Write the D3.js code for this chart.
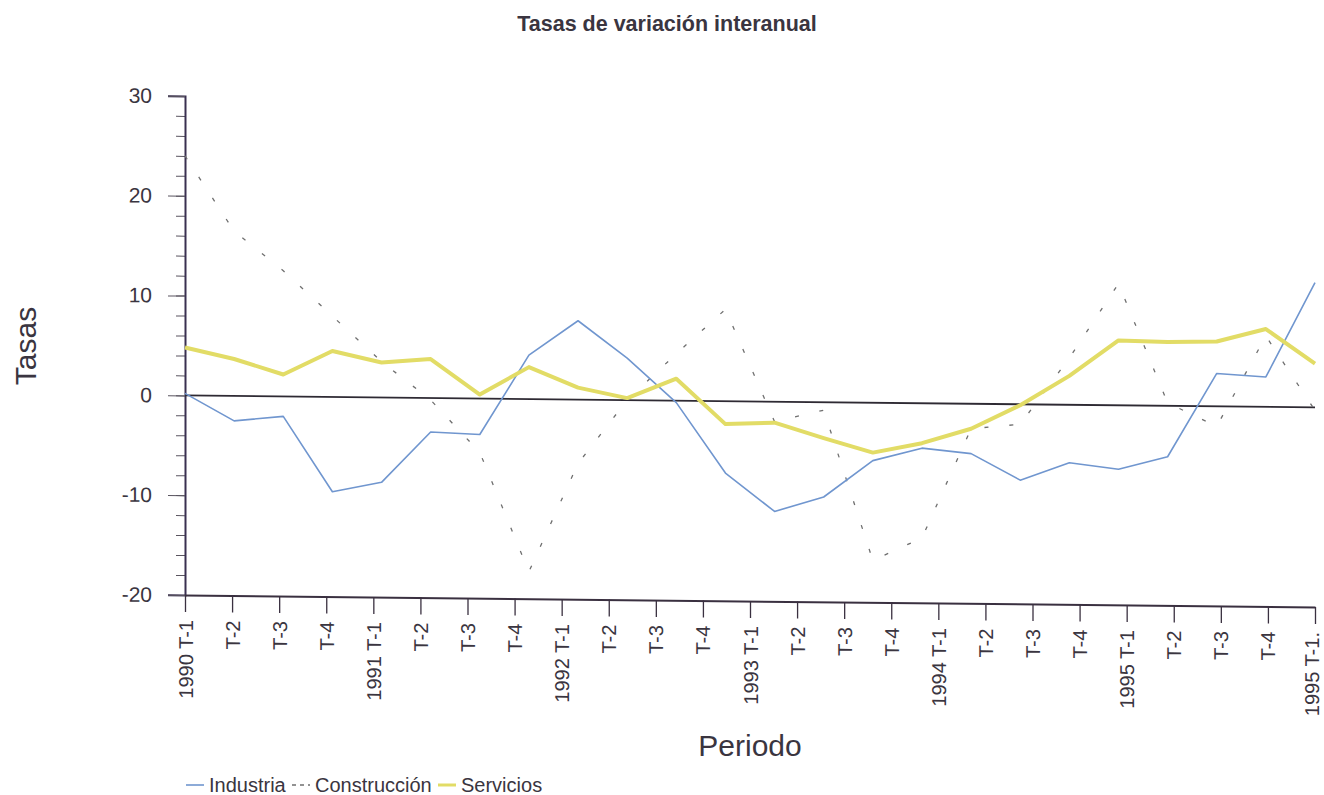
<!DOCTYPE html>
<html lang="es">
<head>
  <meta charset="UTF-8">
  <title>Tasas de variación interanual</title>
  <script src="https://d3js.org/d3.v7.min.js"></script>
  <style>
    body { margin: 0; background: #fff; font-family: "Liberation Sans", Arial, sans-serif; }
    svg text { fill: #3a3540; }
  </style>
</head>
<body>
  <svg id="chart" width="1324" height="795"></svg>

  <script>
    // trimestres del eje (la última etiqueta viene así en el original)
    const tickLabels = [
      "1990 T-1", "T-2", "T-3", "T-4",
      "1991 T-1", "T-2", "T-3", "T-4",
      "1992 T-1", "T-2", "T-3", "T-4",
      "1993 T-1", "T-2", "T-3", "T-4",
      "1994 T-1", "T-2", "T-3", "T-4",
      "1995 T-1", "T-2", "T-3", "T-4",
      "1995 T-1."
    ];

    // 24 observaciones, repartidas entre el primer y el último tick
    const industria = [0.2, -2.5, -2.0, -9.5, -8.5, -3.4, -3.6, 4.4, 7.9, 4.2, -0.2, -7.2,
                       -11.0, -9.5, -5.8, -4.5, -5.0, -7.6, -5.8, -6.4, -5.1, 3.3, 3.0, 12.5];
    const construccion = [24.0, 16.5, 12.6, 8.1, 3.6, -0.2, -5.4, -17.3, -6.4, 0.0, 4.7, 9.2,
                          -2.0, -0.8, -15.8, -13.5, -2.5, -2.0, 4.7, 12.2, 0.3, -2.0, 7.1, -0.3];
    const servicios = [4.8, 3.7, 2.2, 4.6, 3.5, 3.9, 0.4, 3.2, 1.2, 0.2, 2.2, -2.3,
                       -2.1, -3.6, -5.0, -4.0, -2.5, -0.1, 2.9, 6.5, 6.4, 6.5, 7.8, 4.4];

    const yMajor = [-20, -10, 0, 10, 20, 30];
    const yMinor = d3.range(-20, 31, 2);

    const series = [
      { name: "Industria", values: industria, color: "#7096cf", width: 1.6, dash: null },
      { name: "Construcción", values: construccion, color: "#6f6f6f", width: 1.3, dash: "4,21" },
      { name: "Servicios", values: servicios, color: "#e2dc66", width: 4, dash: null }
    ];

    const svg = d3.select("#chart");
    const mLeft = 185, mTop = 96, W = 1130, H = 499;

    const y = d3.scaleLinear().domain([-20, 30]).range([H, 0]);
    const xTick = d3.scalePoint().domain(d3.range(tickLabels.length)).range([0, W]);
    const x = d3.scaleLinear().domain([0, industria.length - 1]).range([0, W]);

    svg.append("text")
      .attr("x", 667).attr("y", 31)
      .attr("text-anchor", "middle")
      .style("font-size", "21.5px").style("font-weight", "bold")
      .text("Tasas de variación interanual");

    // the scan is slightly tilted: horizontal lines drop ~12px across the plot
    const g = svg.append("g").attr("transform", `translate(${mLeft},${mTop}) skewY(0.61)`);

    // y axis, minor then major ticks
    g.append("g")
      .call(d3.axisLeft(y).tickValues(yMinor).tickSize(9).tickFormat(""))
      .call(a => a.select(".domain").remove())
      .selectAll("line").attr("stroke", "#5a5560");

    const yAxis = g.append("g")
      .call(d3.axisLeft(y).tickValues(yMajor).tickSize(17).tickPadding(16).tickFormat(d => String(d)));
    yAxis.select(".domain").attr("stroke", "#3a3050").attr("stroke-width", 2);
    yAxis.selectAll(".tick line").attr("stroke", "#5a5560");
    yAxis.selectAll("text").style("font-size", "21px").attr("fill", "#3a3540");

    // x axis at the bottom
    const xAxis = g.append("g")
      .attr("transform", `translate(0,${H})`)
      .call(d3.axisBottom(xTick).tickSize(17).tickSizeOuter(0).tickFormat(i => tickLabels[i]));
    xAxis.select(".domain").attr("stroke", "#3a3040").attr("stroke-width", 2);
    xAxis.selectAll(".tick line").attr("stroke", "#3a3040").attr("stroke-width", 1.3);
    xAxis.selectAll("text")
      .style("font-size", "20px")
      .attr("fill", "#3a3540")
      .attr("text-anchor", "end")
      .attr("transform", "rotate(-90)")
      .attr("x", -25)
      .attr("y", (d, i) => i === tickLabels.length - 1 ? -4 : 0)
      .attr("dy", "0.35em");

    // zero line
    g.append("line")
      .attr("x1", 0).attr("x2", W)
      .attr("y1", y(0)).attr("y2", y(0))
      .attr("stroke", "#2e2a33").attr("stroke-width", 1.8);

    const line = d3.line().x((d, i) => x(i)).y(d => y(d));

    g.selectAll(".serie")
      .data([series[1], series[0], series[2]])
      .join("path")
      .attr("class", "serie")
      .attr("fill", "none")
      .attr("stroke", d => d.color)
      .attr("stroke-width", d => d.width)
      .attr("stroke-dasharray", d => d.dash)
      .attr("stroke-linejoin", "round")
      .attr("d", d => line(d.values));

    // axis titles
    svg.append("text")
      .attr("transform", "translate(36,346) rotate(-90)")
      .attr("text-anchor", "middle")
      .style("font-size", "30px")
      .text("Tasas");

    svg.append("text")
      .attr("x", 750).attr("y", 756)
      .attr("text-anchor", "middle")
      .style("font-size", "30px")
      .text("Periodo");

    // legend
    const legendX = [186, 292, 438];
    const leg = svg.append("g").attr("transform", "translate(0,785)");
    series.forEach((s, i) => {
      const item = leg.append("g").attr("transform", `translate(${legendX[i]},0)`);
      item.append("line")
        .attr("x1", 0).attr("x2", 18).attr("y1", 0).attr("y2", 0)
        .attr("stroke", s.color)
        .attr("stroke-width", s.dash ? 1.3 : (s.width > 2 ? 3 : 1.6))
        .attr("stroke-dasharray", s.dash ? "4,4" : null);
      item.append("text")
        .attr("x", 23).attr("y", 0).attr("dy", "0.35em")
        .style("font-size", "20px")
        .text(s.name);
    });
  </script>
</body>
</html>
